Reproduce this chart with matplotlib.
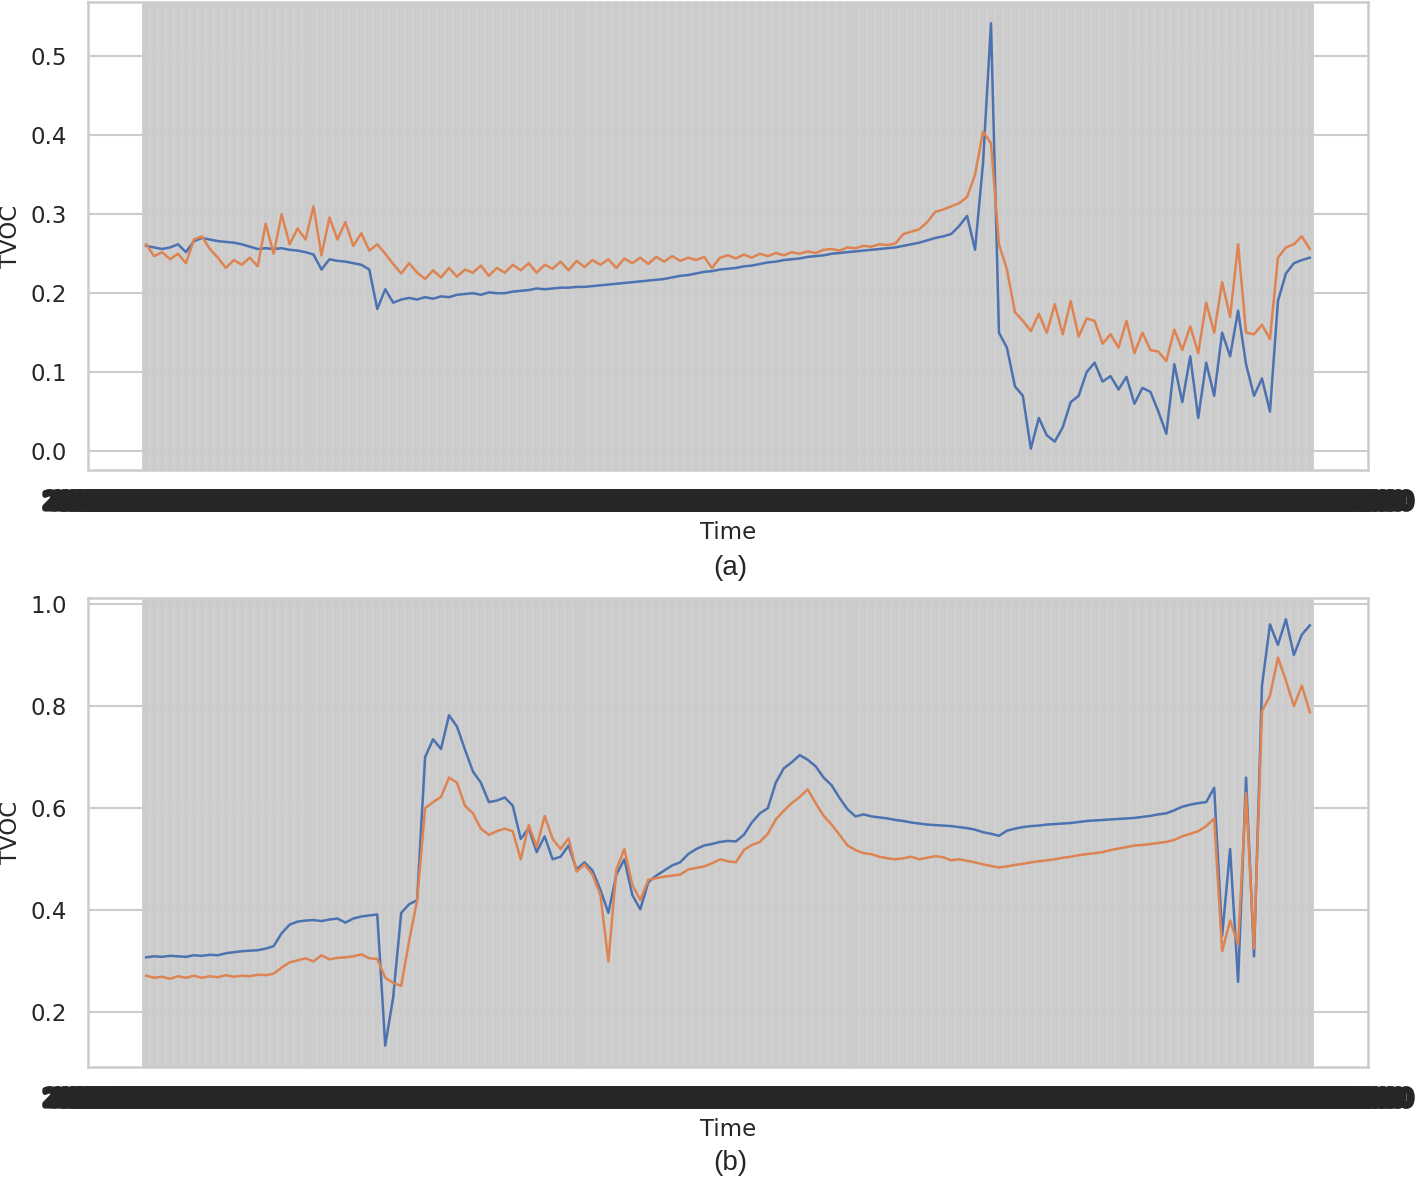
import numpy as np
import pandas as pd
import matplotlib
matplotlib.use("Agg")
import matplotlib.pyplot as plt
import matplotlib.patheffects as pe

# ---------------- data ----------------
# time stamps (categorical x axis, one tick per sample)
time_a = pd.date_range("2021-03-01 00:00", periods=147, freq="10min").strftime("%Y-%m-%d %H:%M").tolist()
time_b = pd.date_range("2021-03-05 00:00", periods=147, freq="10min").strftime("%Y-%m-%d %H:%M").tolist()

# panel (a)
a_blue = [
    0.260, 0.258, 0.256, 0.258, 0.262, 0.252, 0.266, 0.270, 0.268, 0.266,
    0.265, 0.264, 0.262, 0.259, 0.256, 0.257, 0.256, 0.257, 0.255, 0.254,
    0.252, 0.249, 0.230, 0.243, 0.241, 0.240, 0.238, 0.236, 0.230, 0.180,
    0.205, 0.188, 0.192, 0.194, 0.192, 0.195, 0.193, 0.196, 0.195, 0.198,
    0.199, 0.200, 0.198, 0.201, 0.200, 0.200, 0.202, 0.203, 0.204, 0.206,
    0.205, 0.206, 0.207, 0.207, 0.208, 0.208, 0.209, 0.210, 0.211, 0.212,
    0.213, 0.214, 0.215, 0.216, 0.217, 0.218, 0.220, 0.222, 0.223, 0.225,
    0.227, 0.228, 0.230, 0.231, 0.232, 0.234, 0.235, 0.237, 0.239, 0.240,
    0.242, 0.243, 0.244, 0.246, 0.247, 0.248, 0.250, 0.251, 0.252, 0.253,
    0.254, 0.255, 0.256, 0.257, 0.258, 0.260, 0.262, 0.264, 0.267, 0.270,
    0.272, 0.275, 0.285, 0.298, 0.255, 0.365, 0.542, 0.150, 0.131, 0.082,
    0.070, 0.003, 0.042, 0.020, 0.012, 0.030, 0.062, 0.070, 0.100, 0.112,
    0.088, 0.095, 0.078, 0.094, 0.060, 0.080, 0.075, 0.050, 0.022, 0.110,
    0.062, 0.120, 0.042, 0.112, 0.070, 0.150, 0.120, 0.178, 0.110, 0.070,
    0.092, 0.050, 0.190, 0.225, 0.238, 0.242, 0.245,
]
a_orange = [
    0.262, 0.247, 0.252, 0.243, 0.250, 0.238, 0.268, 0.272, 0.256, 0.245,
    0.232, 0.242, 0.236, 0.245, 0.234, 0.288, 0.250, 0.300, 0.262, 0.282,
    0.268, 0.310, 0.248, 0.296, 0.268, 0.290, 0.260, 0.276, 0.254, 0.262,
    0.250, 0.237, 0.225, 0.238, 0.226, 0.218, 0.229, 0.220, 0.232, 0.221,
    0.230, 0.226, 0.235, 0.222, 0.232, 0.226, 0.236, 0.229, 0.238, 0.226,
    0.236, 0.231, 0.240, 0.229, 0.241, 0.233, 0.242, 0.236, 0.243, 0.232,
    0.244, 0.238, 0.245, 0.237, 0.246, 0.240, 0.247, 0.241, 0.245, 0.242,
    0.246, 0.232, 0.245, 0.248, 0.244, 0.249, 0.245, 0.250, 0.247, 0.251,
    0.248, 0.252, 0.250, 0.253, 0.251, 0.255, 0.256, 0.254, 0.258, 0.257,
    0.260, 0.259, 0.262, 0.261, 0.263, 0.275, 0.278, 0.281, 0.290, 0.303,
    0.306, 0.310, 0.314, 0.322, 0.350, 0.405, 0.390, 0.262, 0.230, 0.176,
    0.165, 0.152, 0.174, 0.150, 0.186, 0.148, 0.190, 0.145, 0.168, 0.165,
    0.136, 0.148, 0.131, 0.165, 0.124, 0.150, 0.128, 0.126, 0.114, 0.154,
    0.128, 0.158, 0.124, 0.188, 0.150, 0.214, 0.170, 0.262, 0.150, 0.148,
    0.160, 0.142, 0.245, 0.258, 0.262, 0.272, 0.256,
]

# panel (b)
b_blue = [
    0.308, 0.310, 0.309, 0.311, 0.310, 0.309, 0.312, 0.311, 0.313, 0.312,
    0.316, 0.318, 0.320, 0.321, 0.322, 0.325, 0.330, 0.355, 0.372, 0.378,
    0.380, 0.381, 0.379, 0.382, 0.384, 0.376, 0.384, 0.388, 0.390, 0.392,
    0.135, 0.230, 0.395, 0.412, 0.420, 0.700, 0.735, 0.716, 0.782, 0.760,
    0.715, 0.672, 0.650, 0.612, 0.615, 0.621, 0.605, 0.540, 0.561, 0.514,
    0.545, 0.500, 0.505, 0.527, 0.480, 0.494, 0.478, 0.440, 0.395, 0.470,
    0.500, 0.430, 0.402, 0.455, 0.468, 0.478, 0.488, 0.494, 0.510, 0.520,
    0.527, 0.530, 0.534, 0.536, 0.535, 0.548, 0.572, 0.590, 0.600, 0.650,
    0.678, 0.690, 0.704, 0.695, 0.682, 0.660, 0.645, 0.620, 0.598, 0.584,
    0.588, 0.584, 0.582, 0.580, 0.577, 0.575, 0.572, 0.570, 0.568, 0.567,
    0.566, 0.565, 0.563, 0.561, 0.558, 0.553, 0.550, 0.546, 0.556, 0.560,
    0.563, 0.565, 0.566, 0.568, 0.569, 0.570, 0.571, 0.573, 0.575, 0.576,
    0.577, 0.578, 0.579, 0.580, 0.581, 0.583, 0.585, 0.588, 0.590, 0.596,
    0.603, 0.607, 0.610, 0.612, 0.640, 0.350, 0.520, 0.260, 0.660, 0.310,
    0.840, 0.960, 0.920, 0.970, 0.900, 0.940, 0.958,
]
b_orange = [
    0.272, 0.268, 0.270, 0.266, 0.271, 0.268, 0.272, 0.268, 0.271, 0.269,
    0.273, 0.270, 0.272, 0.271, 0.274, 0.273, 0.276, 0.288, 0.298, 0.302,
    0.306, 0.300, 0.312, 0.304, 0.307, 0.308, 0.310, 0.314, 0.306, 0.305,
    0.268, 0.258, 0.252, 0.340, 0.420, 0.600, 0.612, 0.622, 0.660, 0.650,
    0.605, 0.590, 0.560, 0.548, 0.555, 0.560, 0.555, 0.500, 0.567, 0.524,
    0.585, 0.540, 0.520, 0.541, 0.476, 0.490, 0.470, 0.430, 0.300, 0.480,
    0.520, 0.450, 0.420, 0.460, 0.463, 0.466, 0.468, 0.470, 0.480, 0.483,
    0.486, 0.492, 0.500, 0.496, 0.494, 0.518, 0.528, 0.534, 0.550, 0.578,
    0.595, 0.610, 0.622, 0.637, 0.610, 0.585, 0.568, 0.548, 0.527, 0.518,
    0.512, 0.510, 0.505, 0.502, 0.500, 0.502, 0.505, 0.500, 0.503, 0.506,
    0.504, 0.498, 0.500, 0.497, 0.494, 0.490, 0.487, 0.484, 0.486, 0.489,
    0.491, 0.494, 0.496, 0.498, 0.500, 0.503, 0.505, 0.508, 0.510, 0.512,
    0.514, 0.518, 0.521, 0.524, 0.527, 0.528, 0.530, 0.532, 0.534, 0.538,
    0.545, 0.550, 0.555, 0.565, 0.580, 0.320, 0.380, 0.333, 0.630, 0.325,
    0.790, 0.820, 0.895, 0.850, 0.800, 0.840, 0.788,
]

BLUE = "#4c72b0"
ORANGE = "#dd8452"
GRID = "#cccccc"
TEXT = "#262626"

plt.rcParams["font.family"] = ["DejaVu Sans"]
plt.rcParams["text.color"] = TEXT
plt.rcParams["axes.labelcolor"] = TEXT
plt.rcParams["xtick.color"] = TEXT
plt.rcParams["ytick.color"] = TEXT

fig = plt.figure(figsize=(14.16, 11.82), dpi=100)
ax_a = fig.add_axes([0.0621, 0.6024, 0.9040, 0.3959])
ax_b = fig.add_axes([0.0621, 0.0973, 0.9040, 0.3968])

FS = 16.5
for ax, t, blue, orange in [(ax_a, time_a, a_blue, a_orange),
                            (ax_b, time_b, b_blue, b_orange)]:
    ax.set_facecolor("white")
    ax.set_axisbelow(True)
    ax.plot(t, blue, color=BLUE, lw=1.8, zorder=3)
    ax.plot(t, orange, color=ORANGE, lw=1.8, zorder=3)
    ax.grid(axis="y", color=GRID, lw=1.5)
    ax.grid(axis="x", color=GRID, lw=5.6)
    for s in ax.spines.values():
        s.set_color(GRID)
        s.set_linewidth(1.8)
    ax.tick_params(axis="both", length=0, labelsize=FS)
    ax.tick_params(axis="y", pad=15)
    ax.tick_params(axis="x", pad=15)
    for lab in ax.get_xticklabels():
        lab.set_path_effects([pe.withStroke(linewidth=4, foreground=TEXT)])
    ax.set_xlabel("Time", fontsize=FS, labelpad=5)
    ax.set_ylabel("TVOC", fontsize=FS, labelpad=6)

fig.text(0.5155, 1 - 568 / 1182, "(a)", ha="center", va="center",
         fontsize=20, family=["Liberation Sans", "DejaVu Sans"], color=TEXT)
fig.text(0.5155, 1 - 1163 / 1182, "(b)", ha="center", va="center",
         fontsize=20, family=["Liberation Sans", "DejaVu Sans"], color=TEXT)

fig.savefig("out.png", dpi=100)
